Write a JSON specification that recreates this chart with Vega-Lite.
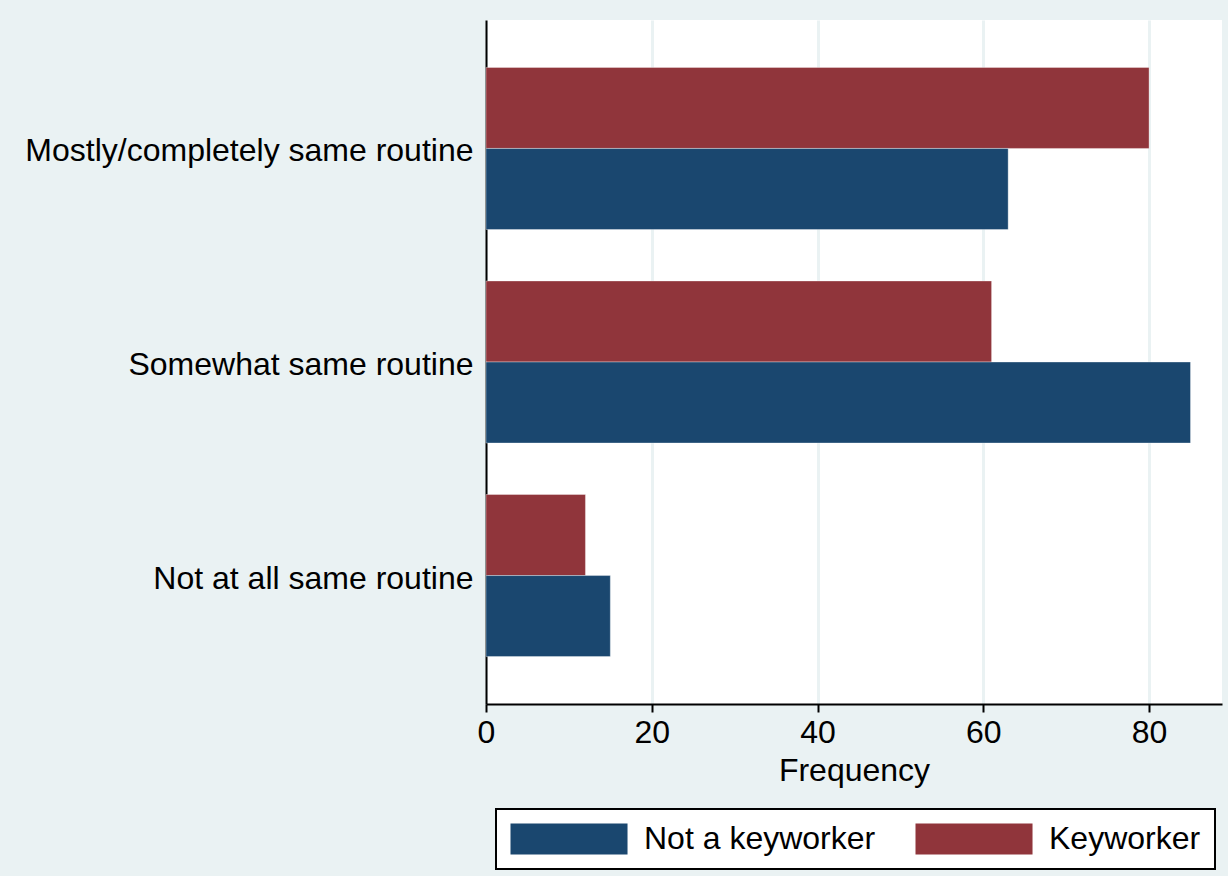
{
  "$schema": "https://vega.github.io/schema/vega-lite/v6.json",
  "autosize": {"type": "none"},
  "width": 736,
  "height": 684,
  "padding": {"left": 486, "top": 20, "right": 6, "bottom": 172},
  "background": "#EAF2F3",
  "data": {
    "values": [
      {"routine": "Mostly/completely same routine", "group": "Keyworker", "freq": 80},
      {"routine": "Mostly/completely same routine", "group": "Not a keyworker", "freq": 63},
      {"routine": "Somewhat same routine", "group": "Keyworker", "freq": 61},
      {"routine": "Somewhat same routine", "group": "Not a keyworker", "freq": 85},
      {"routine": "Not at all same routine", "group": "Keyworker", "freq": 12},
      {"routine": "Not at all same routine", "group": "Not a keyworker", "freq": 15}
    ]
  },
  "mark": {"type": "bar", "strokeWidth": 1, "strokeOpacity": 0.35, "stroke": "#ffffff"},
  "encoding": {
    "y": {
      "field": "routine",
      "type": "nominal",
      "sort": ["Mostly/completely same routine", "Somewhat same routine", "Not at all same routine"],
      "scale": {"paddingInner": 0.241, "paddingOuter": 0.222},
      "axis": {
        "title": null,
        "labelFont": "Liberation Sans",
        "labelFontSize": 32,
        "labelColor": "#000000",
        "labelPadding": 13,
        "labelOffset": 3,
        "labelLimit": 600,
        "ticks": false,
        "domainColor": "#000000",
        "domainWidth": 2,
        "grid": false
      }
    },
    "yOffset": {
      "field": "group",
      "type": "nominal",
      "sort": ["Keyworker", "Not a keyworker"]
    },
    "x": {
      "field": "freq",
      "type": "quantitative",
      "scale": {"domain": [0, 88.8], "nice": false},
      "axis": {
        "title": "Frequency",
        "titleFont": "Liberation Sans",
        "titleFontSize": 32,
        "titleFontWeight": "normal",
        "titleColor": "#000000",
        "titlePadding": 7,
        "values": [0, 20, 40, 60, 80],
        "labelFont": "Liberation Sans",
        "labelFontSize": 32,
        "labelColor": "#000000",
        "labelPadding": 5,
        "labelFlush": false,
        "tickColor": "#000000",
        "tickSize": 8,
        "tickWidth": 2,
        "domainColor": "#000000",
        "domainWidth": 2,
        "grid": true,
        "gridColor": "#EAF2F3",
        "gridWidth": 3
      }
    },
    "color": {
      "field": "group",
      "type": "nominal",
      "scale": {"domain": ["Not a keyworker", "Keyworker"], "range": ["#1a476f", "#90353b"]},
      "legend": {
        "title": null,
        "orient": "none",
        "direction": "horizontal",
        "columns": 2,
        "legendX": 10,
        "legendY": 789,
        "padding": 14,
        "fillColor": "#ffffff",
        "strokeColor": "#000000",
        "symbolType": "M-1,-1H6.55V1H-1Z",
        "symbolSize": 961,
        "symbolStrokeWidth": 0,
        "symbolOpacity": 1,
        "labelFont": "Liberation Sans",
        "labelFontSize": 32,
        "labelColor": "#000000",
        "labelOffset": 102,
        "labelLimit": 400,
        "columnPadding": 39
      }
    }
  },
  "config": {
    "view": {"fill": "#ffffff", "stroke": null},
    "legend": {"strokeWidth": 2}
  }
}
